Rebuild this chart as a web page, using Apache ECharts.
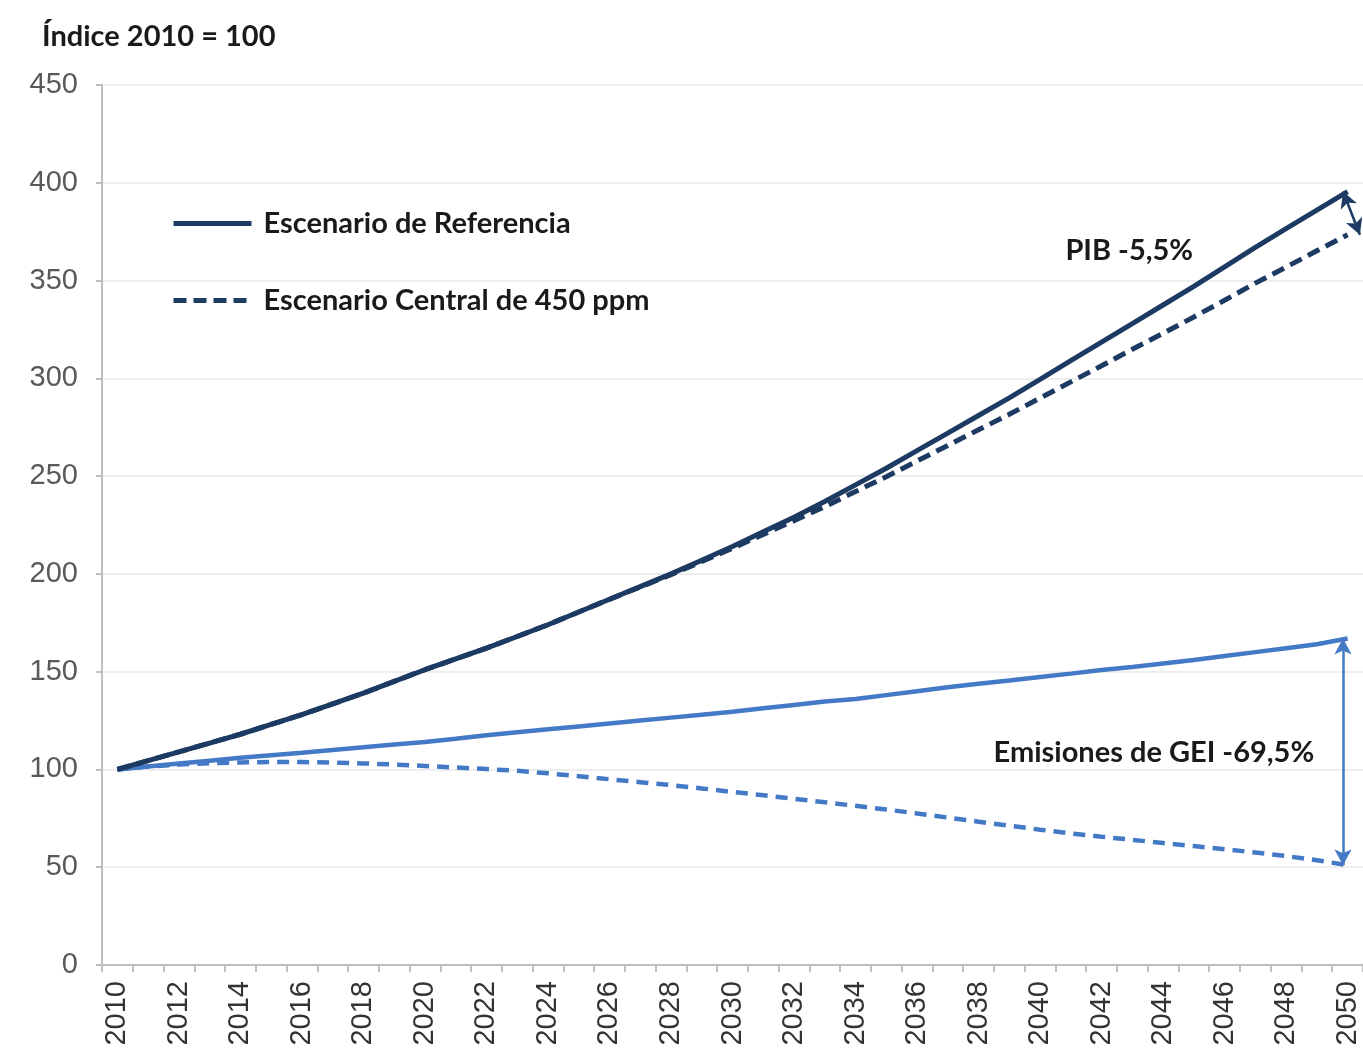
<!DOCTYPE html>
<html><head><meta charset="utf-8">
<script src="https://cdn.jsdelivr.net/npm/echarts@6/dist/echarts.min.js"></script>
<style>html,body{margin:0;padding:0;background:#fff}#c{width:1363px;height:1055px}</style>
</head><body><div id="c"></div><script>
const years = ['2010','2011','2012','2013','2014','2015','2016','2017','2018','2019','2020','2021','2022','2023','2024','2025','2026','2027','2028','2029','2030','2031','2032','2033','2034','2035','2036','2037','2038','2039','2040','2041','2042','2043','2044','2045','2046','2047','2048','2049','2050'];
// PIB - Escenario de Referencia
const pibRef = [100,104.5,109,113.5,118,123,128,133.5,139,145,151,156.5,162,168,174,180.5,187,193.5,200,207,214,221.5,229,237,245.5,254,263,272,281,290,299.5,309,318.5,328,337.5,347,357,367,376.5,386,395.5];
// PIB - Escenario Central de 450 ppm
const pib450 = [100,104.5,109,113.5,118,123,128,133.5,139,145,151,156.5,162,168,174,180.5,187,193.3,199.6,206.3,213.1,220.2,227.2,234.4,242.1,249.7,257.7,265.7,273.7,281.6,289.9,298.2,306.4,314.9,323.0,331.4,339.9,348.7,356.9,365.2,373.4];
// Emisiones de GEI - Referencia
const geiRef = [100,101.5,103,104.5,106,107.3,108.5,110,111.3,112.7,114,115.7,117.5,119,120.5,122,123.5,125,126.5,128,129.5,131.3,133,134.7,136,138,140,142,143.8,145.5,147.3,149,150.8,152.4,154.2,156,158,160,162,164,167];
// Emisiones de GEI - 450 ppm
const gei450 = [100,101.5,102.5,103.2,103.6,103.8,103.8,103.5,103.1,102.5,101.8,101,100.2,99.3,98,96.5,95,93.5,92,90.3,88.5,86.8,85,83.2,81.4,79.5,77.5,75.4,73.3,71.2,69.2,67.3,65.6,64,62.4,60.8,59.2,57.5,55.7,53.6,51];
const yTicks = {min:0, max:450, interval:50};
const titleText = 'Índice 2010 = 100';
const legendNames = ['Escenario de Referencia','Escenario Central de 450 ppm'];
const notePIB = 'PIB -5,5%';
const noteGEI = 'Emisiones de GEI -69,5%';

const dark = '#1d3a63', light = '#4479c6';
const txtFont = 'Lato';
const last = years.length - 1;

const chart = echarts.init(document.getElementById('c'), null, {renderer:'canvas'});
chart.setOption({
  animation:false,
  backgroundColor:'#ffffff',
  title:{text:titleText, left:37, top:17, textStyle:{fontFamily:txtFont, fontWeight:'bold', fontSize:29, color:'#1a1a1a'}},
  legend:{orient:'vertical', left:166, top:204, itemWidth:78, itemHeight:14, itemGap:48, data:legendNames,
    itemStyle:{opacity:0}, lineStyle:{width:5},
    textStyle:{fontFamily:txtFont, fontWeight:'bold', fontSize:29, color:'#1a1a1a', padding:[0,0,0,7]}},
  grid:{left:102, right:0, top:85, bottom:90},
  xAxis:[{type:'category', data:years, boundaryGap:true,
    axisLine:{lineStyle:{color:'#bfbfbf', width:2}},
    axisTick:{show:true, interval:0, length:7, lineStyle:{color:'#bfbfbf', width:2}},
    axisLabel:{interval:1, rotate:90, margin:16, fontFamily:'Liberation Sans', fontSize:29, color:'#333333'}},
    {type:'value', min:-0.5, max:last+0.5, show:false}],
  yAxis:{type:'value', min:yTicks.min, max:yTicks.max, interval:yTicks.interval,
    axisLine:{show:true, onZero:false, lineStyle:{color:'#bfbfbf', width:2}},
    axisTick:{show:true, length:6, lineStyle:{color:'#bfbfbf', width:2}},
    axisLabel:{margin:24, fontFamily:'Liberation Sans', fontSize:29, color:'#595959'},
    splitLine:{lineStyle:{color:'#eeeeee', width:2}}},
  series:[
    {name:'Emisiones GEI Referencia', type:'line', data:geiRef, symbol:'none', color:light, lineStyle:{width:4.5, color:light}},
    {name:'Emisiones GEI 450 ppm', type:'line', data:gei450, symbol:'none', color:light, lineStyle:{width:4.5, color:light, type:[12,8]}},
    {name:legendNames[0], type:'line', data:pibRef, symbol:'none', color:dark, lineStyle:{width:5, color:dark}},
    {name:legendNames[1], type:'line', data:pib450, symbol:'none', color:dark, lineStyle:{width:5, color:dark, type:[13,7]}},
    {name:'anotaciones', type:'line', xAxisIndex:1, data:[[last, geiRef[last]]], symbol:'none', lineStyle:{opacity:0},
      markLine:{silent:true, symbol:['arrow','arrow'], symbolSize:[13,16], label:{show:false},
        data:[
          [{coord:[last-0.15, pibRef[last]], lineStyle:{color:dark, width:2.5, type:'solid'}}, {coord:[last+0.4, pib450[last]]}],
          [{coord:[last-0.15, geiRef[last]], lineStyle:{color:light, width:2.5, type:'solid'}}, {coord:[last-0.15, gei450[last]]}]
        ]},
      markPoint:{silent:true, symbol:'rect', symbolSize:1, itemStyle:{color:'rgba(0,0,0,0)'},
        label:{show:true, position:'inside', fontFamily:txtFont, fontWeight:'bold', fontSize:29, color:'#1a1a1a'},
        data:[
          {coord:[32.9, 365.5], label:{formatter:notePIB}},
          {coord:[33.7, 108.4], label:{formatter:noteGEI}}
        ]}
    }
  ]
});
</script></body></html>
